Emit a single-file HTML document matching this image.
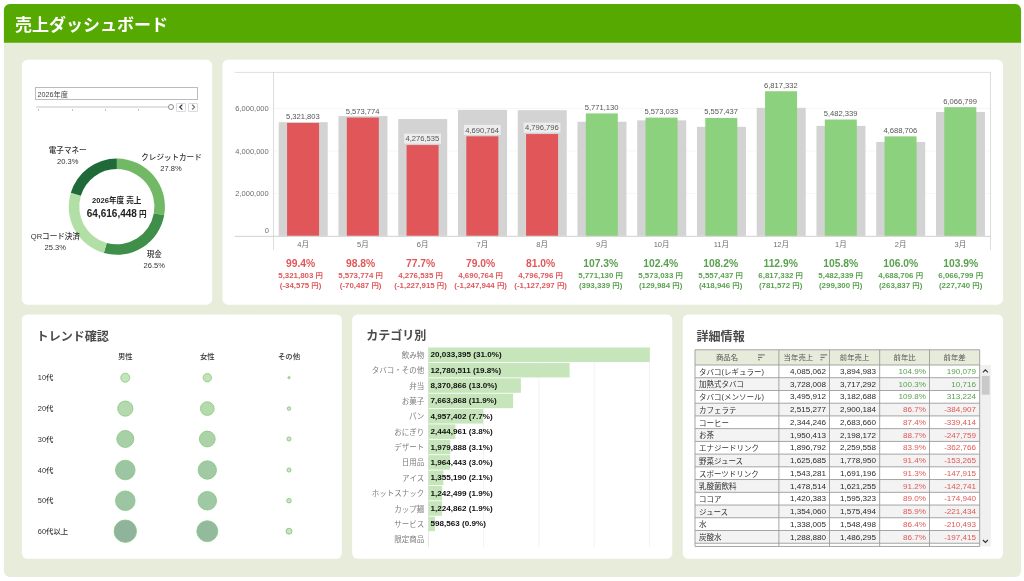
<!DOCTYPE html>
<html><head><meta charset="utf-8"><title>売上ダッシュボード</title>
<style>
html,body{margin:0;padding:0;background:#fff;}
body{width:1024px;height:581px;overflow:hidden;position:relative;font-family:"Liberation Sans","Noto Sans CJK JP",sans-serif;}
#root{position:absolute;left:0;top:0;width:1024px;height:581px;overflow:hidden;}
.t{position:absolute;white-space:nowrap;}
.r{position:absolute;}
.p{position:relative;top:-1px;}
.s{position:absolute;left:0;top:0;pointer-events:none;}
</style></head><body><div id="root">
<svg class="s" width="1024" height="581"><rect x="3.9" y="4.0" width="1017.15" height="573.00" rx="6" fill="#e8ecda"/><path d="M3.9,42.8 V10.0 A6,6 0 0 1 9.9,4.0 H1015.05 A6,6 0 0 1 1021.05,10.0 V42.8 Z" fill="#56a900"/><rect x="21.9" y="59.85" width="190.30" height="244.85" rx="5.5" fill="#fff"/><rect x="222.4" y="59.85" width="780.60" height="244.85" rx="5.5" fill="#fff"/><rect x="21.9" y="314.5" width="319.90" height="244.30" rx="5.5" fill="#fff"/><rect x="352.2" y="314.5" width="320.10" height="244.30" rx="5.5" fill="#fff"/><rect x="682.8" y="314.5" width="320.25" height="244.30" rx="5.5" fill="#fff"/></svg>
<div class="t" style="left:15.00px;top:13px;height:26px;line-height:26px;font-size:17px;color:#fff;font-weight:700;">売上ダッシュボード</div>
<div class="r" style="left:35.40px;top:87.20px;width:162.80px;height:12.60px;background:#fff;border:1px solid #bcbcbc;box-sizing:border-box;"></div>
<div class="t" style="left:37.60px;top:89px;height:11px;line-height:11px;font-size:7.2px;color:#444;">2026年度</div>
<div class="r" style="left:35.60px;top:105.60px;width:133.00px;height:2.00px;background:#e2e2e2;border-radius:1px;"></div>
<div class="r" style="left:38.20px;top:109.00px;width:0.80px;height:2.00px;background:#c4c4c4;"></div>
<div class="r" style="left:71.50px;top:109.00px;width:0.80px;height:2.00px;background:#c4c4c4;"></div>
<div class="r" style="left:104.80px;top:109.00px;width:0.80px;height:2.00px;background:#c4c4c4;"></div>
<div class="r" style="left:138.10px;top:109.00px;width:0.80px;height:2.00px;background:#c4c4c4;"></div>
<div class="r" style="left:168.2px;top:103.6px;width:6px;height:6px;border-radius:50%;background:#fff;border:1px solid #8a8a8a;box-sizing:border-box;"></div>
<div class="r" style="left:176.30px;top:102.50px;width:9.70px;height:9.20px;background:#fff;border:1px solid #dadada;box-sizing:border-box;border-radius:1px;"></div>
<svg class="s" width="1024" height="581"><polyline points="182.35,104.60 179.85,107.10 182.35,109.60" fill="none" stroke="#2a3550" stroke-width="1.3"/></svg>
<div class="r" style="left:188.40px;top:102.50px;width:9.70px;height:9.20px;background:#fff;border:1px solid #dadada;box-sizing:border-box;border-radius:1px;"></div>
<svg class="s" width="1024" height="581"><polyline points="192.05,104.60 194.55,107.10 192.05,109.60" fill="none" stroke="#777" stroke-width="1.3"/></svg>
<svg class="s" width="1024" height="581"><path d="M116.85,158.60 A48.1,48.1 0 0 1 164.19,215.20 L153.86,213.35 A37.6,37.6 0 0 0 116.85,169.10 Z" fill="#72b966"/><path d="M164.19,215.20 A48.1,48.1 0 0 1 103.85,253.01 L106.69,242.90 A37.6,37.6 0 0 0 153.86,213.35 Z" fill="#3f8f4a"/><path d="M103.85,253.01 A48.1,48.1 0 0 1 70.81,192.76 L80.86,195.80 A37.6,37.6 0 0 0 106.69,242.90 Z" fill="#b2dfa6"/><path d="M70.81,192.76 A48.1,48.1 0 0 1 116.85,158.60 L116.85,169.10 A37.6,37.6 0 0 0 80.86,195.80 Z" fill="#206a3a"/></svg>
<div class="t" style="left:67.70px;transform:translateX(-50%);top:145px;height:12px;line-height:12px;font-size:7.55px;color:#333;font-weight:500;">電子マネー</div>
<div class="t" style="left:67.70px;transform:translateX(-50%);top:156px;height:12px;line-height:12px;font-size:7.55px;color:#333;font-weight:500;">20.3%</div>
<div class="t" style="left:171.50px;transform:translateX(-50%);top:152px;height:12px;line-height:12px;font-size:7.55px;color:#333;font-weight:500;">クレジットカード</div>
<div class="t" style="left:171.00px;transform:translateX(-50%);top:163px;height:12px;line-height:12px;font-size:7.55px;color:#333;font-weight:500;">27.8%</div>
<div class="t" style="left:55.30px;transform:translateX(-50%);top:231px;height:12px;line-height:12px;font-size:7.55px;color:#333;font-weight:500;">QRコード決済</div>
<div class="t" style="left:55.30px;transform:translateX(-50%);top:242px;height:12px;line-height:12px;font-size:7.55px;color:#333;font-weight:500;">25.3%</div>
<div class="t" style="left:154.20px;transform:translateX(-50%);top:249px;height:12px;line-height:12px;font-size:7.55px;color:#333;font-weight:500;">現金</div>
<div class="t" style="left:154.20px;transform:translateX(-50%);top:260px;height:12px;line-height:12px;font-size:7.55px;color:#333;font-weight:500;">26.5%</div>
<div class="t" style="left:116.70px;transform:translateX(-50%);top:195px;height:12px;line-height:12px;font-size:7.6px;color:#222;font-weight:700;">2026年度 売上</div>
<div class="t" style="left:116.70px;transform:translateX(-50%);top:206px;height:15px;line-height:15px;font-size:10px;color:#222;font-weight:700;">64,616,448<span style="font-size:7.6px"> 円</span></div>
<svg class="s" width="1024" height="581"><rect x="234.80" y="71.90" width="755.70" height="0.90" fill="#dddddd"/><rect x="273.50" y="192.87" width="717.00" height="0.90" fill="#f5f5f5"/><rect x="273.50" y="150.49" width="717.00" height="0.90" fill="#f5f5f5"/><rect x="273.50" y="108.11" width="717.00" height="0.90" fill="#f5f5f5"/><rect x="273.05" y="71.90" width="0.90" height="177.90" fill="#d9d9d9"/><rect x="990.05" y="71.90" width="0.90" height="177.90" fill="#d9d9d9"/><rect x="278.73" y="122.20" width="49.00" height="113.60" fill="#d3d3d3"/><rect x="287.07" y="122.93" width="32.00" height="112.87" fill="#e15759"/><rect x="338.48" y="116.10" width="49.00" height="119.70" fill="#d3d3d3"/><rect x="346.82" y="117.59" width="32.00" height="118.21" fill="#e15759"/><rect x="398.23" y="119.06" width="49.00" height="116.74" fill="#d3d3d3"/><rect x="406.57" y="145.08" width="32.00" height="90.72" fill="#e15759"/><rect x="457.98" y="109.86" width="49.00" height="125.94" fill="#d3d3d3"/><rect x="466.32" y="136.30" width="32.00" height="99.50" fill="#e15759"/><rect x="517.73" y="110.17" width="49.00" height="125.63" fill="#d3d3d3"/><rect x="526.07" y="134.06" width="32.00" height="101.74" fill="#e15759"/><rect x="577.47" y="121.74" width="49.00" height="114.06" fill="#d3d3d3"/><rect x="585.81" y="113.41" width="32.00" height="122.39" fill="#8cd17d"/><rect x="637.22" y="120.36" width="49.00" height="115.44" fill="#d3d3d3"/><rect x="645.56" y="117.61" width="32.00" height="118.19" fill="#8cd17d"/><rect x="696.97" y="126.82" width="49.00" height="108.98" fill="#d3d3d3"/><rect x="705.31" y="117.94" width="32.00" height="117.86" fill="#8cd17d"/><rect x="756.72" y="107.80" width="49.00" height="128.00" fill="#d3d3d3"/><rect x="765.06" y="91.24" width="32.00" height="144.56" fill="#8cd17d"/><rect x="816.47" y="125.87" width="49.00" height="109.93" fill="#d3d3d3"/><rect x="824.81" y="119.53" width="32.00" height="116.27" fill="#8cd17d"/><rect x="876.21" y="141.94" width="49.00" height="93.86" fill="#d3d3d3"/><rect x="884.55" y="136.35" width="32.00" height="99.45" fill="#8cd17d"/><rect x="935.96" y="111.97" width="49.00" height="123.83" fill="#d3d3d3"/><rect x="944.30" y="107.14" width="32.00" height="128.66" fill="#8cd17d"/><rect x="284.67" y="111.53" width="36.80" height="10.00" fill="#ffffff" fill-opacity="0.6"/><rect x="344.42" y="106.19" width="36.80" height="10.00" fill="#ffffff" fill-opacity="0.6"/><rect x="404.17" y="133.68" width="36.80" height="10.00" fill="#ffffff" fill-opacity="0.6"/><rect x="463.92" y="124.90" width="36.80" height="10.00" fill="#ffffff" fill-opacity="0.6"/><rect x="523.67" y="122.66" width="36.80" height="10.00" fill="#ffffff" fill-opacity="0.6"/><rect x="583.41" y="102.01" width="36.80" height="10.00" fill="#ffffff" fill-opacity="0.6"/><rect x="643.16" y="106.21" width="36.80" height="10.00" fill="#ffffff" fill-opacity="0.6"/><rect x="702.91" y="106.54" width="36.80" height="10.00" fill="#ffffff" fill-opacity="0.6"/><rect x="762.66" y="79.84" width="36.80" height="10.00" fill="#ffffff" fill-opacity="0.6"/><rect x="822.41" y="108.13" width="36.80" height="10.00" fill="#ffffff" fill-opacity="0.6"/><rect x="882.15" y="124.95" width="36.80" height="10.00" fill="#ffffff" fill-opacity="0.6"/><rect x="941.90" y="95.74" width="36.80" height="10.00" fill="#ffffff" fill-opacity="0.6"/><rect x="234.80" y="235.85" width="755.70" height="0.90" fill="#cbcbcb"/></svg>
<div class="t" style="right:755.30px;top:188px;height:12px;line-height:12px;font-size:7.5px;color:#6e6e6e;">2,000,000</div>
<div class="t" style="right:755.30px;top:146px;height:12px;line-height:12px;font-size:7.5px;color:#6e6e6e;">4,000,000</div>
<div class="t" style="right:755.30px;top:103px;height:12px;line-height:12px;font-size:7.5px;color:#6e6e6e;">6,000,000</div>
<div class="t" style="right:755.10px;top:225px;height:12px;line-height:12px;font-size:7.5px;color:#6e6e6e;">0</div>
<div class="t" style="left:303.07px;transform:translateX(-50%);top:239px;height:12px;line-height:12px;font-size:7.5px;color:#6e6e6e;">4月</div>
<div class="t" style="left:300.60px;transform:translateX(-50%);top:256px;height:16px;line-height:16px;font-size:10.3px;color:#e15759;font-weight:700;">99.4%</div>
<div class="t" style="left:300.60px;transform:translateX(-50%);top:270px;height:12px;line-height:12px;font-size:7.9px;color:#e15759;font-weight:700;">5,321,803 <span style="font-size:7.4px">円</span></div>
<div class="t" style="left:300.60px;transform:translateX(-50%);top:280px;height:12px;line-height:12px;font-size:7.9px;color:#e15759;font-weight:700;">(-34,575 <span style="font-size:7.4px">円</span>)</div>
<div class="t" style="left:362.82px;transform:translateX(-50%);top:239px;height:12px;line-height:12px;font-size:7.5px;color:#6e6e6e;">5月</div>
<div class="t" style="left:360.61px;transform:translateX(-50%);top:256px;height:16px;line-height:16px;font-size:10.3px;color:#e15759;font-weight:700;">98.8%</div>
<div class="t" style="left:360.61px;transform:translateX(-50%);top:270px;height:12px;line-height:12px;font-size:7.9px;color:#e15759;font-weight:700;">5,573,774 <span style="font-size:7.4px">円</span></div>
<div class="t" style="left:360.61px;transform:translateX(-50%);top:280px;height:12px;line-height:12px;font-size:7.9px;color:#e15759;font-weight:700;">(-70,487 <span style="font-size:7.4px">円</span>)</div>
<div class="t" style="left:422.57px;transform:translateX(-50%);top:239px;height:12px;line-height:12px;font-size:7.5px;color:#6e6e6e;">6月</div>
<div class="t" style="left:420.62px;transform:translateX(-50%);top:256px;height:16px;line-height:16px;font-size:10.3px;color:#e15759;font-weight:700;">77.7%</div>
<div class="t" style="left:420.62px;transform:translateX(-50%);top:270px;height:12px;line-height:12px;font-size:7.9px;color:#e15759;font-weight:700;">4,276,535 <span style="font-size:7.4px">円</span></div>
<div class="t" style="left:420.62px;transform:translateX(-50%);top:280px;height:12px;line-height:12px;font-size:7.9px;color:#e15759;font-weight:700;">(-1,227,915 <span style="font-size:7.4px">円</span>)</div>
<div class="t" style="left:482.32px;transform:translateX(-50%);top:239px;height:12px;line-height:12px;font-size:7.5px;color:#6e6e6e;">7月</div>
<div class="t" style="left:480.63px;transform:translateX(-50%);top:256px;height:16px;line-height:16px;font-size:10.3px;color:#e15759;font-weight:700;">79.0%</div>
<div class="t" style="left:480.63px;transform:translateX(-50%);top:270px;height:12px;line-height:12px;font-size:7.9px;color:#e15759;font-weight:700;">4,690,764 <span style="font-size:7.4px">円</span></div>
<div class="t" style="left:480.63px;transform:translateX(-50%);top:280px;height:12px;line-height:12px;font-size:7.9px;color:#e15759;font-weight:700;">(-1,247,944 <span style="font-size:7.4px">円</span>)</div>
<div class="t" style="left:542.07px;transform:translateX(-50%);top:239px;height:12px;line-height:12px;font-size:7.5px;color:#6e6e6e;">8月</div>
<div class="t" style="left:540.64px;transform:translateX(-50%);top:256px;height:16px;line-height:16px;font-size:10.3px;color:#e15759;font-weight:700;">81.0%</div>
<div class="t" style="left:540.64px;transform:translateX(-50%);top:270px;height:12px;line-height:12px;font-size:7.9px;color:#e15759;font-weight:700;">4,796,796 <span style="font-size:7.4px">円</span></div>
<div class="t" style="left:540.64px;transform:translateX(-50%);top:280px;height:12px;line-height:12px;font-size:7.9px;color:#e15759;font-weight:700;">(-1,127,297 <span style="font-size:7.4px">円</span>)</div>
<div class="t" style="left:601.81px;transform:translateX(-50%);top:239px;height:12px;line-height:12px;font-size:7.5px;color:#6e6e6e;">9月</div>
<div class="t" style="left:600.65px;transform:translateX(-50%);top:256px;height:16px;line-height:16px;font-size:10.3px;color:#59a14f;font-weight:700;">107.3%</div>
<div class="t" style="left:600.65px;transform:translateX(-50%);top:270px;height:12px;line-height:12px;font-size:7.9px;color:#59a14f;font-weight:700;">5,771,130 <span style="font-size:7.4px">円</span></div>
<div class="t" style="left:600.65px;transform:translateX(-50%);top:280px;height:12px;line-height:12px;font-size:7.9px;color:#59a14f;font-weight:700;">(393,339 <span style="font-size:7.4px">円</span>)</div>
<div class="t" style="left:661.56px;transform:translateX(-50%);top:239px;height:12px;line-height:12px;font-size:7.5px;color:#6e6e6e;">10月</div>
<div class="t" style="left:660.65px;transform:translateX(-50%);top:256px;height:16px;line-height:16px;font-size:10.3px;color:#59a14f;font-weight:700;">102.4%</div>
<div class="t" style="left:660.65px;transform:translateX(-50%);top:270px;height:12px;line-height:12px;font-size:7.9px;color:#59a14f;font-weight:700;">5,573,033 <span style="font-size:7.4px">円</span></div>
<div class="t" style="left:660.65px;transform:translateX(-50%);top:280px;height:12px;line-height:12px;font-size:7.9px;color:#59a14f;font-weight:700;">(129,984 <span style="font-size:7.4px">円</span>)</div>
<div class="t" style="left:721.31px;transform:translateX(-50%);top:239px;height:12px;line-height:12px;font-size:7.5px;color:#6e6e6e;">11月</div>
<div class="t" style="left:720.66px;transform:translateX(-50%);top:256px;height:16px;line-height:16px;font-size:10.3px;color:#59a14f;font-weight:700;">108.2%</div>
<div class="t" style="left:720.66px;transform:translateX(-50%);top:270px;height:12px;line-height:12px;font-size:7.9px;color:#59a14f;font-weight:700;">5,557,437 <span style="font-size:7.4px">円</span></div>
<div class="t" style="left:720.66px;transform:translateX(-50%);top:280px;height:12px;line-height:12px;font-size:7.9px;color:#59a14f;font-weight:700;">(418,946 <span style="font-size:7.4px">円</span>)</div>
<div class="t" style="left:781.06px;transform:translateX(-50%);top:239px;height:12px;line-height:12px;font-size:7.5px;color:#6e6e6e;">12月</div>
<div class="t" style="left:780.67px;transform:translateX(-50%);top:256px;height:16px;line-height:16px;font-size:10.3px;color:#59a14f;font-weight:700;">112.9%</div>
<div class="t" style="left:780.67px;transform:translateX(-50%);top:270px;height:12px;line-height:12px;font-size:7.9px;color:#59a14f;font-weight:700;">6,817,332 <span style="font-size:7.4px">円</span></div>
<div class="t" style="left:780.67px;transform:translateX(-50%);top:280px;height:12px;line-height:12px;font-size:7.9px;color:#59a14f;font-weight:700;">(781,572 <span style="font-size:7.4px">円</span>)</div>
<div class="t" style="left:840.81px;transform:translateX(-50%);top:239px;height:12px;line-height:12px;font-size:7.5px;color:#6e6e6e;">1月</div>
<div class="t" style="left:840.68px;transform:translateX(-50%);top:256px;height:16px;line-height:16px;font-size:10.3px;color:#59a14f;font-weight:700;">105.8%</div>
<div class="t" style="left:840.68px;transform:translateX(-50%);top:270px;height:12px;line-height:12px;font-size:7.9px;color:#59a14f;font-weight:700;">5,482,339 <span style="font-size:7.4px">円</span></div>
<div class="t" style="left:840.68px;transform:translateX(-50%);top:280px;height:12px;line-height:12px;font-size:7.9px;color:#59a14f;font-weight:700;">(299,300 <span style="font-size:7.4px">円</span>)</div>
<div class="t" style="left:900.55px;transform:translateX(-50%);top:239px;height:12px;line-height:12px;font-size:7.5px;color:#6e6e6e;">2月</div>
<div class="t" style="left:900.69px;transform:translateX(-50%);top:256px;height:16px;line-height:16px;font-size:10.3px;color:#59a14f;font-weight:700;">106.0%</div>
<div class="t" style="left:900.69px;transform:translateX(-50%);top:270px;height:12px;line-height:12px;font-size:7.9px;color:#59a14f;font-weight:700;">4,688,706 <span style="font-size:7.4px">円</span></div>
<div class="t" style="left:900.69px;transform:translateX(-50%);top:280px;height:12px;line-height:12px;font-size:7.9px;color:#59a14f;font-weight:700;">(263,837 <span style="font-size:7.4px">円</span>)</div>
<div class="t" style="left:960.30px;transform:translateX(-50%);top:239px;height:12px;line-height:12px;font-size:7.5px;color:#6e6e6e;">3月</div>
<div class="t" style="left:960.70px;transform:translateX(-50%);top:256px;height:16px;line-height:16px;font-size:10.3px;color:#59a14f;font-weight:700;">103.9%</div>
<div class="t" style="left:960.70px;transform:translateX(-50%);top:270px;height:12px;line-height:12px;font-size:7.9px;color:#59a14f;font-weight:700;">6,066,799 <span style="font-size:7.4px">円</span></div>
<div class="t" style="left:960.70px;transform:translateX(-50%);top:280px;height:12px;line-height:12px;font-size:7.9px;color:#59a14f;font-weight:700;">(227,740 <span style="font-size:7.4px">円</span>)</div>
<div class="t" style="left:302.87px;transform:translateX(-50%);top:111px;height:12px;line-height:12px;font-size:7.6px;color:#555;">5,321,803</div>
<div class="t" style="left:362.62px;transform:translateX(-50%);top:106px;height:12px;line-height:12px;font-size:7.6px;color:#555;">5,573,774</div>
<div class="t" style="left:422.37px;transform:translateX(-50%);top:133px;height:12px;line-height:12px;font-size:7.6px;color:#555;">4,276,535</div>
<div class="t" style="left:482.12px;transform:translateX(-50%);top:125px;height:12px;line-height:12px;font-size:7.6px;color:#555;">4,690,764</div>
<div class="t" style="left:541.87px;transform:translateX(-50%);top:122px;height:12px;line-height:12px;font-size:7.6px;color:#555;">4,796,796</div>
<div class="t" style="left:601.61px;transform:translateX(-50%);top:102px;height:12px;line-height:12px;font-size:7.6px;color:#555;">5,771,130</div>
<div class="t" style="left:661.36px;transform:translateX(-50%);top:106px;height:12px;line-height:12px;font-size:7.6px;color:#555;">5,573,033</div>
<div class="t" style="left:721.11px;transform:translateX(-50%);top:106px;height:12px;line-height:12px;font-size:7.6px;color:#555;">5,557,437</div>
<div class="t" style="left:780.86px;transform:translateX(-50%);top:80px;height:12px;line-height:12px;font-size:7.6px;color:#555;">6,817,332</div>
<div class="t" style="left:840.61px;transform:translateX(-50%);top:108px;height:12px;line-height:12px;font-size:7.6px;color:#555;">5,482,339</div>
<div class="t" style="left:900.35px;transform:translateX(-50%);top:125px;height:12px;line-height:12px;font-size:7.6px;color:#555;">4,688,706</div>
<div class="t" style="left:960.10px;transform:translateX(-50%);top:96px;height:12px;line-height:12px;font-size:7.6px;color:#555;">6,066,799</div>
<div class="t" style="left:36.60px;top:328px;height:19px;line-height:19px;font-size:12.05px;color:#4a4a4a;font-weight:700;">トレンド確認</div>
<div class="t" style="left:125.30px;transform:translateX(-50%);top:351px;height:12px;line-height:12px;font-size:7.4px;color:#333;font-weight:500;">男性</div>
<div class="t" style="left:207.30px;transform:translateX(-50%);top:351px;height:12px;line-height:12px;font-size:7.4px;color:#333;font-weight:500;">女性</div>
<div class="t" style="left:289.00px;transform:translateX(-50%);top:351px;height:12px;line-height:12px;font-size:7.4px;color:#333;font-weight:500;">その他</div>
<svg class="s" width="1024" height="581"><circle cx="125.3" cy="377.7" r="4.50" fill="#c2e6b6" stroke="#88c67e" stroke-width="0.8"/><circle cx="207.3" cy="377.7" r="4.20" fill="#c0e4b5" stroke="#88c67e" stroke-width="0.8"/><circle cx="289.0" cy="377.7" r="1.10" fill="#cdebc3" stroke="#88c67e" stroke-width="0.9"/><circle cx="125.3" cy="408.6" r="7.60" fill="#b3d9ac" stroke="#88c67e" stroke-width="0.8"/><circle cx="207.3" cy="408.6" r="6.85" fill="#b5dbad" stroke="#88c67e" stroke-width="0.8"/><circle cx="289.0" cy="408.6" r="1.75" fill="#cdebc3" stroke="#88c67e" stroke-width="0.9"/><circle cx="125.3" cy="439.0" r="8.50" fill="#a8d0a6" stroke="#88c67e" stroke-width="0.8"/><circle cx="207.3" cy="439.0" r="7.90" fill="#abd3a7" stroke="#88c67e" stroke-width="0.8"/><circle cx="289.0" cy="439.0" r="2.05" fill="#cdebc3" stroke="#88c67e" stroke-width="0.9"/><circle cx="125.3" cy="470.0" r="9.80" fill="#9cc5a4" stroke="#88c67e" stroke-width="0.8"/><circle cx="207.3" cy="470.0" r="9.20" fill="#a0c9a4" stroke="#88c67e" stroke-width="0.8"/><circle cx="289.0" cy="470.0" r="2.05" fill="#cdebc3" stroke="#88c67e" stroke-width="0.9"/><circle cx="125.3" cy="500.7" r="9.80" fill="#9cc5a3" stroke="#88c67e" stroke-width="0.8"/><circle cx="207.3" cy="500.7" r="9.30" fill="#9fc8a4" stroke="#88c67e" stroke-width="0.8"/><circle cx="289.0" cy="500.7" r="2.25" fill="#cbe9c1" stroke="#88c67e" stroke-width="0.9"/><circle cx="125.3" cy="531.2" r="11.20" fill="#8fb39c" stroke="#88c67e" stroke-width="0.8"/><circle cx="207.3" cy="531.2" r="10.50" fill="#93ba9d" stroke="#88c67e" stroke-width="0.8"/><circle cx="289.0" cy="531.2" r="2.95" fill="#c8e7be" stroke="#88c67e" stroke-width="0.9"/></svg>
<div class="t" style="left:37.80px;top:372px;height:12px;line-height:12px;font-size:7.4px;color:#333;font-weight:500;">10代</div>
<div class="t" style="left:37.80px;top:403px;height:12px;line-height:12px;font-size:7.4px;color:#333;font-weight:500;">20代</div>
<div class="t" style="left:37.80px;top:434px;height:12px;line-height:12px;font-size:7.4px;color:#333;font-weight:500;">30代</div>
<div class="t" style="left:37.80px;top:465px;height:12px;line-height:12px;font-size:7.4px;color:#333;font-weight:500;">40代</div>
<div class="t" style="left:37.80px;top:495px;height:12px;line-height:12px;font-size:7.4px;color:#333;font-weight:500;">50代</div>
<div class="t" style="left:37.80px;top:526px;height:12px;line-height:12px;font-size:7.4px;color:#333;font-weight:500;">60代以上</div>
<div class="t" style="left:366.20px;top:327px;height:19px;line-height:19px;font-size:12.05px;color:#4a4a4a;font-weight:700;">カテゴリ別</div>
<svg class="s" width="1024" height="581"><rect x="483.20" y="347.00" width="0.90" height="200.10" fill="#f0f0f0"/><rect x="538.45" y="347.00" width="0.90" height="200.10" fill="#f0f0f0"/><rect x="593.70" y="347.00" width="0.90" height="200.10" fill="#f0f0f0"/><rect x="648.95" y="347.00" width="0.90" height="200.10" fill="#f0f0f0"/><rect x="427.95" y="347.00" width="0.90" height="200.10" fill="#e4e4e4"/><rect x="428.40" y="347.55" width="221.37" height="14.50" fill="#c6e5bb"/><rect x="428.40" y="362.92" width="141.22" height="14.50" fill="#c6e5bb"/><rect x="428.40" y="378.29" width="92.50" height="14.50" fill="#c6e5bb"/><rect x="428.40" y="393.66" width="84.69" height="14.50" fill="#c6e5bb"/><rect x="428.40" y="409.03" width="54.78" height="14.50" fill="#c6e5bb"/><rect x="428.40" y="424.40" width="27.02" height="14.50" fill="#c6e5bb"/><rect x="428.40" y="439.77" width="21.88" height="14.50" fill="#c6e5bb"/><rect x="428.40" y="455.14" width="21.71" height="14.50" fill="#c6e5bb"/><rect x="428.40" y="470.51" width="14.97" height="14.50" fill="#c6e5bb"/><rect x="428.40" y="485.88" width="13.73" height="14.50" fill="#c6e5bb"/><rect x="428.40" y="501.25" width="13.53" height="14.50" fill="#c6e5bb"/><rect x="428.40" y="516.62" width="6.61" height="14.50" fill="#c6e5bb"/></svg>
<div class="t" style="right:599.70px;top:350px;height:12px;line-height:12px;font-size:7.5px;color:#7d7d7d;">飲み物</div>
<div class="t" style="left:430.60px;top:348px;height:13px;line-height:13px;font-size:8.1px;color:#111;font-weight:700;">20,033,395 (31.0%)</div>
<div class="t" style="right:599.70px;top:365px;height:12px;line-height:12px;font-size:7.5px;color:#7d7d7d;">タバコ・その他</div>
<div class="t" style="left:430.60px;top:364px;height:13px;line-height:13px;font-size:8.1px;color:#111;font-weight:700;">12,780,511 (19.8%)</div>
<div class="t" style="right:599.70px;top:381px;height:12px;line-height:12px;font-size:7.5px;color:#7d7d7d;">弁当</div>
<div class="t" style="left:430.60px;top:379px;height:13px;line-height:13px;font-size:8.1px;color:#111;font-weight:700;">8,370,866 (13.0%)</div>
<div class="t" style="right:599.70px;top:396px;height:12px;line-height:12px;font-size:7.5px;color:#7d7d7d;">お菓子</div>
<div class="t" style="left:430.60px;top:394px;height:13px;line-height:13px;font-size:8.1px;color:#111;font-weight:700;">7,663,868 (11.9%)</div>
<div class="t" style="right:599.70px;top:411px;height:12px;line-height:12px;font-size:7.5px;color:#7d7d7d;">パン</div>
<div class="t" style="left:430.60px;top:410px;height:13px;line-height:13px;font-size:8.1px;color:#111;font-weight:700;">4,957,402 (7.7%)</div>
<div class="t" style="right:599.70px;top:427px;height:12px;line-height:12px;font-size:7.5px;color:#7d7d7d;">おにぎり</div>
<div class="t" style="left:430.60px;top:425px;height:13px;line-height:13px;font-size:8.1px;color:#111;font-weight:700;">2,444,961 (3.8%)</div>
<div class="t" style="right:599.70px;top:442px;height:12px;line-height:12px;font-size:7.5px;color:#7d7d7d;">デザート</div>
<div class="t" style="left:430.60px;top:441px;height:13px;line-height:13px;font-size:8.1px;color:#111;font-weight:700;">1,979,888 (3.1%)</div>
<div class="t" style="right:599.70px;top:457px;height:12px;line-height:12px;font-size:7.5px;color:#7d7d7d;">日用品</div>
<div class="t" style="left:430.60px;top:456px;height:13px;line-height:13px;font-size:8.1px;color:#111;font-weight:700;">1,964,443 (3.0%)</div>
<div class="t" style="right:599.70px;top:473px;height:12px;line-height:12px;font-size:7.5px;color:#7d7d7d;">アイス</div>
<div class="t" style="left:430.60px;top:471px;height:13px;line-height:13px;font-size:8.1px;color:#111;font-weight:700;">1,355,190 (2.1%)</div>
<div class="t" style="right:599.70px;top:488px;height:12px;line-height:12px;font-size:7.5px;color:#7d7d7d;">ホットスナック</div>
<div class="t" style="left:430.60px;top:487px;height:13px;line-height:13px;font-size:8.1px;color:#111;font-weight:700;">1,242,499 (1.9%)</div>
<div class="t" style="right:599.70px;top:504px;height:12px;line-height:12px;font-size:7.5px;color:#7d7d7d;">カップ麺</div>
<div class="t" style="left:430.60px;top:502px;height:13px;line-height:13px;font-size:8.1px;color:#111;font-weight:700;">1,224,862 (1.9%)</div>
<div class="t" style="right:599.70px;top:519px;height:12px;line-height:12px;font-size:7.5px;color:#7d7d7d;">サービス</div>
<div class="t" style="left:430.60px;top:517px;height:13px;line-height:13px;font-size:8.1px;color:#111;font-weight:700;">598,563 (0.9%)</div>
<div class="t" style="right:599.70px;top:534px;height:12px;line-height:12px;font-size:7.5px;color:#7d7d7d;">限定商品</div>
<div class="t" style="left:696.50px;top:328px;height:19px;line-height:19px;font-size:12.05px;color:#4a4a4a;font-weight:700;">詳細情報</div>
<svg class="s" width="1024" height="581"><rect x="695.00" y="349.80" width="284.70" height="15.20" fill="#e6ecd9"/><rect x="695.00" y="377.73" width="284.70" height="12.73" fill="#f3f3f3"/><rect x="695.00" y="403.19" width="284.70" height="12.73" fill="#f3f3f3"/><rect x="695.00" y="428.65" width="284.70" height="12.73" fill="#f3f3f3"/><rect x="695.00" y="454.11" width="284.70" height="12.73" fill="#f3f3f3"/><rect x="695.00" y="479.57" width="284.70" height="12.73" fill="#f3f3f3"/><rect x="695.00" y="505.03" width="284.70" height="12.73" fill="#f3f3f3"/><rect x="695.00" y="530.49" width="284.70" height="12.73" fill="#f3f3f3"/><rect x="979.70" y="365.00" width="11.20" height="181.40" fill="#f0f0f0"/><rect x="981.80" y="375.90" width="7.80" height="18.80" fill="#c9c9c9"/><polyline points="982.9,372.3 985.4,369.8 987.9,372.3" fill="none" stroke="#333" stroke-width="1.1"/><polyline points="982.9,540.0 985.4,542.5 987.9,540.0" fill="none" stroke="#333" stroke-width="1.1"/><rect x="695.00" y="349.35" width="284.70" height="0.90" fill="#9c9c9c"/><rect x="695.00" y="364.55" width="284.70" height="0.90" fill="#9c9c9c"/><rect x="695.00" y="377.28" width="284.70" height="0.90" fill="#9c9c9c"/><rect x="695.00" y="390.01" width="284.70" height="0.90" fill="#9c9c9c"/><rect x="695.00" y="402.74" width="284.70" height="0.90" fill="#9c9c9c"/><rect x="695.00" y="415.47" width="284.70" height="0.90" fill="#9c9c9c"/><rect x="695.00" y="428.20" width="284.70" height="0.90" fill="#9c9c9c"/><rect x="695.00" y="440.93" width="284.70" height="0.90" fill="#9c9c9c"/><rect x="695.00" y="453.66" width="284.70" height="0.90" fill="#9c9c9c"/><rect x="695.00" y="466.39" width="284.70" height="0.90" fill="#9c9c9c"/><rect x="695.00" y="479.12" width="284.70" height="0.90" fill="#9c9c9c"/><rect x="695.00" y="491.85" width="284.70" height="0.90" fill="#9c9c9c"/><rect x="695.00" y="504.58" width="284.70" height="0.90" fill="#9c9c9c"/><rect x="695.00" y="517.31" width="284.70" height="0.90" fill="#9c9c9c"/><rect x="695.00" y="530.04" width="284.70" height="0.90" fill="#9c9c9c"/><rect x="695.00" y="542.77" width="284.70" height="0.90" fill="#9c9c9c"/><rect x="695.00" y="545.95" width="284.70" height="0.90" fill="#9c9c9c"/><rect x="694.55" y="349.80" width="0.90" height="196.60" fill="#9c9c9c"/><rect x="778.45" y="349.80" width="0.90" height="196.60" fill="#9c9c9c"/><rect x="829.05" y="349.80" width="0.90" height="196.60" fill="#9c9c9c"/><rect x="879.25" y="349.80" width="0.90" height="196.60" fill="#9c9c9c"/><rect x="929.05" y="349.80" width="0.90" height="196.60" fill="#9c9c9c"/><rect x="979.25" y="349.80" width="0.90" height="196.60" fill="#9c9c9c"/><rect x="758.00" y="354.40" width="6.70" height="1.00" fill="#666"/><rect x="758.00" y="356.90" width="4.20" height="1.00" fill="#666"/><rect x="758.00" y="359.30" width="1.80" height="1.00" fill="#666"/><rect x="820.50" y="354.40" width="6.70" height="1.00" fill="#666"/><rect x="820.50" y="356.90" width="4.20" height="1.00" fill="#666"/><rect x="820.50" y="359.30" width="1.80" height="1.00" fill="#666"/></svg>
<div class="t" style="left:727.00px;transform:translateX(-50%);top:352px;height:12px;line-height:12px;font-size:7.4px;color:#555;">商品名</div>
<div class="t" style="left:798.40px;transform:translateX(-50%);top:352px;height:12px;line-height:12px;font-size:7.4px;color:#555;">当年売上</div>
<div class="t" style="left:854.60px;transform:translateX(-50%);top:352px;height:12px;line-height:12px;font-size:7.4px;color:#555;">前年売上</div>
<div class="t" style="left:904.60px;transform:translateX(-50%);top:352px;height:12px;line-height:12px;font-size:7.4px;color:#555;">前年比</div>
<div class="t" style="left:954.60px;transform:translateX(-50%);top:352px;height:12px;line-height:12px;font-size:7.4px;color:#555;">前年差</div>
<div class="t" style="left:699.00px;top:367px;height:12px;line-height:12px;font-size:7.5px;color:#333;">タバコ<span class="p">(</span>レギュラー<span class="p">)</span></div>
<div class="t" style="right:198.10px;top:365px;height:13px;line-height:13px;font-size:8.1px;color:#2a2a2a;">4,085,062</div>
<div class="t" style="right:147.90px;top:365px;height:13px;line-height:13px;font-size:8.1px;color:#2a2a2a;">3,894,983</div>
<div class="t" style="right:98.10px;top:365px;height:13px;line-height:13px;font-size:8.1px;color:#59a14f;">104.9%</div>
<div class="t" style="right:47.90px;top:365px;height:13px;line-height:13px;font-size:8.1px;color:#59a14f;">190,079</div>
<div class="t" style="left:699.00px;top:379px;height:12px;line-height:12px;font-size:7.5px;color:#333;">加熱式タバコ</div>
<div class="t" style="right:198.10px;top:378px;height:13px;line-height:13px;font-size:8.1px;color:#2a2a2a;">3,728,008</div>
<div class="t" style="right:147.90px;top:378px;height:13px;line-height:13px;font-size:8.1px;color:#2a2a2a;">3,717,292</div>
<div class="t" style="right:98.10px;top:378px;height:13px;line-height:13px;font-size:8.1px;color:#59a14f;">100.3%</div>
<div class="t" style="right:47.90px;top:378px;height:13px;line-height:13px;font-size:8.1px;color:#59a14f;">10,716</div>
<div class="t" style="left:699.00px;top:392px;height:12px;line-height:12px;font-size:7.5px;color:#333;">タバコ<span class="p">(</span>メンソール<span class="p">)</span></div>
<div class="t" style="right:198.10px;top:390px;height:13px;line-height:13px;font-size:8.1px;color:#2a2a2a;">3,495,912</div>
<div class="t" style="right:147.90px;top:390px;height:13px;line-height:13px;font-size:8.1px;color:#2a2a2a;">3,182,688</div>
<div class="t" style="right:98.10px;top:390px;height:13px;line-height:13px;font-size:8.1px;color:#59a14f;">109.8%</div>
<div class="t" style="right:47.90px;top:390px;height:13px;line-height:13px;font-size:8.1px;color:#59a14f;">313,224</div>
<div class="t" style="left:699.00px;top:405px;height:12px;line-height:12px;font-size:7.5px;color:#333;">カフェラテ</div>
<div class="t" style="right:198.10px;top:403px;height:13px;line-height:13px;font-size:8.1px;color:#2a2a2a;">2,515,277</div>
<div class="t" style="right:147.90px;top:403px;height:13px;line-height:13px;font-size:8.1px;color:#2a2a2a;">2,900,184</div>
<div class="t" style="right:98.10px;top:403px;height:13px;line-height:13px;font-size:8.1px;color:#e15759;">86.7%</div>
<div class="t" style="right:47.90px;top:403px;height:13px;line-height:13px;font-size:8.1px;color:#e15759;">-384,907</div>
<div class="t" style="left:699.00px;top:418px;height:12px;line-height:12px;font-size:7.5px;color:#333;">コーヒー</div>
<div class="t" style="right:198.10px;top:416px;height:13px;line-height:13px;font-size:8.1px;color:#2a2a2a;">2,344,246</div>
<div class="t" style="right:147.90px;top:416px;height:13px;line-height:13px;font-size:8.1px;color:#2a2a2a;">2,683,660</div>
<div class="t" style="right:98.10px;top:416px;height:13px;line-height:13px;font-size:8.1px;color:#e15759;">87.4%</div>
<div class="t" style="right:47.90px;top:416px;height:13px;line-height:13px;font-size:8.1px;color:#e15759;">-339,414</div>
<div class="t" style="left:699.00px;top:430px;height:12px;line-height:12px;font-size:7.5px;color:#333;">お茶</div>
<div class="t" style="right:198.10px;top:429px;height:13px;line-height:13px;font-size:8.1px;color:#2a2a2a;">1,950,413</div>
<div class="t" style="right:147.90px;top:429px;height:13px;line-height:13px;font-size:8.1px;color:#2a2a2a;">2,198,172</div>
<div class="t" style="right:98.10px;top:429px;height:13px;line-height:13px;font-size:8.1px;color:#e15759;">88.7%</div>
<div class="t" style="right:47.90px;top:429px;height:13px;line-height:13px;font-size:8.1px;color:#e15759;">-247,759</div>
<div class="t" style="left:699.00px;top:443px;height:12px;line-height:12px;font-size:7.5px;color:#333;">エナジードリンク</div>
<div class="t" style="right:198.10px;top:441px;height:13px;line-height:13px;font-size:8.1px;color:#2a2a2a;">1,896,792</div>
<div class="t" style="right:147.90px;top:441px;height:13px;line-height:13px;font-size:8.1px;color:#2a2a2a;">2,259,558</div>
<div class="t" style="right:98.10px;top:441px;height:13px;line-height:13px;font-size:8.1px;color:#e15759;">83.9%</div>
<div class="t" style="right:47.90px;top:441px;height:13px;line-height:13px;font-size:8.1px;color:#e15759;">-362,766</div>
<div class="t" style="left:699.00px;top:456px;height:12px;line-height:12px;font-size:7.5px;color:#333;">野菜ジュース</div>
<div class="t" style="right:198.10px;top:454px;height:13px;line-height:13px;font-size:8.1px;color:#2a2a2a;">1,625,685</div>
<div class="t" style="right:147.90px;top:454px;height:13px;line-height:13px;font-size:8.1px;color:#2a2a2a;">1,778,950</div>
<div class="t" style="right:98.10px;top:454px;height:13px;line-height:13px;font-size:8.1px;color:#e15759;">91.4%</div>
<div class="t" style="right:47.90px;top:454px;height:13px;line-height:13px;font-size:8.1px;color:#e15759;">-153,265</div>
<div class="t" style="left:699.00px;top:469px;height:12px;line-height:12px;font-size:7.5px;color:#333;">スポーツドリンク</div>
<div class="t" style="right:198.10px;top:467px;height:13px;line-height:13px;font-size:8.1px;color:#2a2a2a;">1,543,281</div>
<div class="t" style="right:147.90px;top:467px;height:13px;line-height:13px;font-size:8.1px;color:#2a2a2a;">1,691,196</div>
<div class="t" style="right:98.10px;top:467px;height:13px;line-height:13px;font-size:8.1px;color:#e15759;">91.3%</div>
<div class="t" style="right:47.90px;top:467px;height:13px;line-height:13px;font-size:8.1px;color:#e15759;">-147,915</div>
<div class="t" style="left:699.00px;top:481px;height:12px;line-height:12px;font-size:7.5px;color:#333;">乳酸菌飲料</div>
<div class="t" style="right:198.10px;top:480px;height:13px;line-height:13px;font-size:8.1px;color:#2a2a2a;">1,478,514</div>
<div class="t" style="right:147.90px;top:480px;height:13px;line-height:13px;font-size:8.1px;color:#2a2a2a;">1,621,255</div>
<div class="t" style="right:98.10px;top:480px;height:13px;line-height:13px;font-size:8.1px;color:#e15759;">91.2%</div>
<div class="t" style="right:47.90px;top:480px;height:13px;line-height:13px;font-size:8.1px;color:#e15759;">-142,741</div>
<div class="t" style="left:699.00px;top:494px;height:12px;line-height:12px;font-size:7.5px;color:#333;">ココア</div>
<div class="t" style="right:198.10px;top:492px;height:13px;line-height:13px;font-size:8.1px;color:#2a2a2a;">1,420,383</div>
<div class="t" style="right:147.90px;top:492px;height:13px;line-height:13px;font-size:8.1px;color:#2a2a2a;">1,595,323</div>
<div class="t" style="right:98.10px;top:492px;height:13px;line-height:13px;font-size:8.1px;color:#e15759;">89.0%</div>
<div class="t" style="right:47.90px;top:492px;height:13px;line-height:13px;font-size:8.1px;color:#e15759;">-174,940</div>
<div class="t" style="left:699.00px;top:507px;height:12px;line-height:12px;font-size:7.5px;color:#333;">ジュース</div>
<div class="t" style="right:198.10px;top:505px;height:13px;line-height:13px;font-size:8.1px;color:#2a2a2a;">1,354,060</div>
<div class="t" style="right:147.90px;top:505px;height:13px;line-height:13px;font-size:8.1px;color:#2a2a2a;">1,575,494</div>
<div class="t" style="right:98.10px;top:505px;height:13px;line-height:13px;font-size:8.1px;color:#e15759;">85.9%</div>
<div class="t" style="right:47.90px;top:505px;height:13px;line-height:13px;font-size:8.1px;color:#e15759;">-221,434</div>
<div class="t" style="left:699.00px;top:519px;height:12px;line-height:12px;font-size:7.5px;color:#333;">水</div>
<div class="t" style="right:198.10px;top:518px;height:13px;line-height:13px;font-size:8.1px;color:#2a2a2a;">1,338,005</div>
<div class="t" style="right:147.90px;top:518px;height:13px;line-height:13px;font-size:8.1px;color:#2a2a2a;">1,548,498</div>
<div class="t" style="right:98.10px;top:518px;height:13px;line-height:13px;font-size:8.1px;color:#e15759;">86.4%</div>
<div class="t" style="right:47.90px;top:518px;height:13px;line-height:13px;font-size:8.1px;color:#e15759;">-210,493</div>
<div class="t" style="left:699.00px;top:532px;height:12px;line-height:12px;font-size:7.5px;color:#333;">炭酸水</div>
<div class="t" style="right:198.10px;top:531px;height:13px;line-height:13px;font-size:8.1px;color:#2a2a2a;">1,288,880</div>
<div class="t" style="right:147.90px;top:531px;height:13px;line-height:13px;font-size:8.1px;color:#2a2a2a;">1,486,295</div>
<div class="t" style="right:98.10px;top:531px;height:13px;line-height:13px;font-size:8.1px;color:#e15759;">86.7%</div>
<div class="t" style="right:47.90px;top:531px;height:13px;line-height:13px;font-size:8.1px;color:#e15759;">-197,415</div>
</div></body></html>
